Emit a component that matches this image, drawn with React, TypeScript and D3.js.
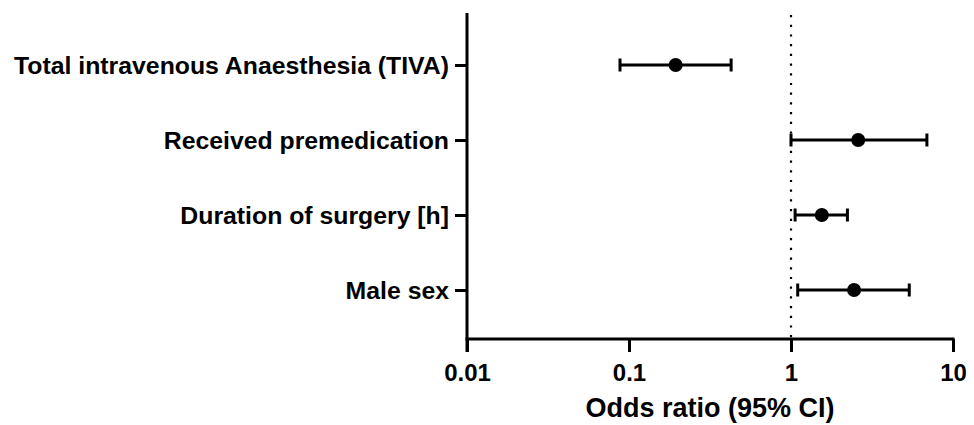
import React, { useEffect, useRef } from 'react';
import * as d3 from 'd3';

// forest plot data
const labels = ['Total intravenous Anaesthesia (TIVA)', 'Received premedication', 'Duration of surgery [h]', 'Male sex'];
const oddsRatio = [0.194, 2.6, 1.55, 2.45];
const ciLow = [0.088, 1.0, 1.06, 1.1];
const ciHigh = [0.427, 6.9, 2.23, 5.37];
const xTicks = [0.01, 0.1, 1, 10];
const xTickLabels = ['0.01', '0.1', '1', '10'];

const App = () => {
  const ref = useRef<SVGSVGElement>(null);

  useEffect(() => {
    const width = 974;
    const height = 425;
    const left = 467;
    const right = 953;
    const top = 13;
    const bottom = 339;
    const font = 'Liberation Sans, Arial, sans-serif';

    const svg = d3.select(ref.current);
    svg.selectAll('*').remove();
    svg.attr('width', width).attr('height', height);

    const x = d3.scaleLog().domain([0.01, 10]).range([left, right]);
    const y = d3.scalePoint<string>().domain(labels).range([65, 290]);

    // reference line at OR = 1
    svg.append('line')
      .attr('x1', x(1)).attr('x2', x(1))
      .attr('y1', top + 2).attr('y2', bottom)
      .attr('stroke', '#000')
      .attr('stroke-width', 2.2)
      .attr('stroke-dasharray', '2.2 7.5');

    // x axis
    const xAxis = svg.append('g')
      .attr('transform', `translate(0,${bottom})`)
      .call(d3.axisBottom(x).tickValues(xTicks).tickFormat((d, i) => xTickLabels[i]).tickSize(13).tickSizeOuter(0));
    xAxis.select('.domain').attr('stroke-width', 3).attr('d', `M${left - 1.5},0H${right + 1.5}`);
    xAxis.selectAll('.tick line').attr('stroke-width', 3);
    xAxis.selectAll('.tick text')
      .attr('y', 25)
      .attr('font-family', font)
      .attr('font-weight', 'bold')
      .attr('font-size', 24)
      .attr('fill', '#000');

    // y axis
    const yAxis = svg.append('g')
      .attr('transform', `translate(${left},0)`)
      .call(d3.axisLeft(y).tickSize(12).tickSizeOuter(0).tickPadding(6));
    yAxis.select('.domain').attr('stroke-width', 3).attr('d', `M0,${top}V${bottom + 13}`);
    yAxis.selectAll('.tick line').attr('stroke-width', 3);
    yAxis.selectAll('.tick text')
      .attr('dy', '0.36em')
      .attr('font-family', font)
      .attr('font-weight', 'bold')
      .attr('font-size', 24.8)
      .attr('fill', '#000');

    // error bars
    const rows = svg.append('g')
      .selectAll('g')
      .data(labels)
      .enter()
      .append('g');

    rows.append('line')
      .attr('x1', (d, i) => x(ciLow[i]))
      .attr('x2', (d, i) => x(ciHigh[i]))
      .attr('y1', d => y(d)!)
      .attr('y2', d => y(d)!)
      .attr('stroke', '#000')
      .attr('stroke-width', 3);

    [ciLow, ciHigh].forEach(arr => {
      rows.append('line')
        .attr('x1', (d, i) => x(arr[i]))
        .attr('x2', (d, i) => x(arr[i]))
        .attr('y1', d => y(d)! - 6.5)
        .attr('y2', d => y(d)! + 6.5)
        .attr('stroke', '#000')
        .attr('stroke-width', 3);
    });

    rows.append('circle')
      .attr('cx', (d, i) => x(oddsRatio[i]))
      .attr('cy', d => y(d)!)
      .attr('r', 7)
      .attr('fill', '#000');

    // axis title
    svg.append('text')
      .attr('x', (left + right) / 2)
      .attr('y', 417)
      .attr('text-anchor', 'middle')
      .attr('font-family', font)
      .attr('font-weight', 'bold')
      .attr('font-size', 27)
      .attr('fill', '#000')
      .text('Odds ratio (95% CI)');
  }, []);

  return (
    <div>
      <svg ref={ref} style={{ position: 'absolute', left: 0, top: 0 }} />
    </div>
  );
};

export default App;
